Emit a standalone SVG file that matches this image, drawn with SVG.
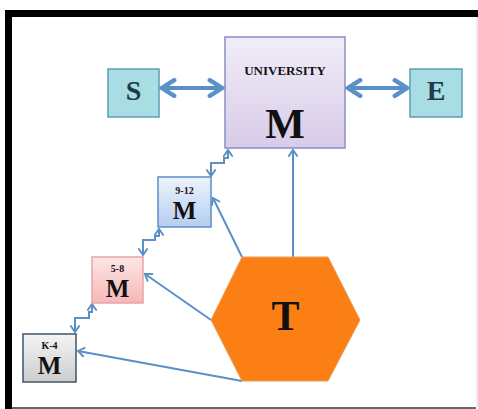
<svg xmlns="http://www.w3.org/2000/svg" width="478" height="409" viewBox="0 0 478 409">
<defs>
<linearGradient id="gU" x1="0" y1="0" x2="0" y2="1"><stop offset="0" stop-color="#f1edf8"/><stop offset="1" stop-color="#d8cbe8"/></linearGradient>
<linearGradient id="g912" x1="0" y1="0" x2="0" y2="1"><stop offset="0" stop-color="#eef4fc"/><stop offset="1" stop-color="#b5cdf0"/></linearGradient>
<linearGradient id="g58" x1="0" y1="0" x2="0" y2="1"><stop offset="0" stop-color="#fde6e6"/><stop offset="1" stop-color="#f6b7b7"/></linearGradient>
<linearGradient id="gK4" x1="0" y1="0" x2="0" y2="1"><stop offset="0" stop-color="#f4f4f4"/><stop offset="1" stop-color="#cdcdcd"/></linearGradient>
<marker id="big" markerUnits="userSpaceOnUse" markerWidth="20" markerHeight="20" viewBox="-14 -9 16 18" refX="0" refY="0" orient="auto-start-reverse">
<polyline points="-11,-7 0,0 -11,7" fill="none" stroke="#5b8fc7" stroke-width="4" stroke-linejoin="miter" stroke-linecap="round"/>
</marker>
<marker id="sm" markerUnits="userSpaceOnUse" markerWidth="12" markerHeight="12" viewBox="-7 -5 8 10" refX="0" refY="0" orient="auto-start-reverse">
<polyline points="-5,-3.5 0,0 -5,3.5" fill="none" stroke="#5b8fc7" stroke-width="1.6" stroke-linecap="round"/>
</marker>
<style>
.lbl{font-family:"Liberation Serif","Times New Roman",serif;font-weight:bold;text-anchor:middle;fill:#111}
.big{stroke:#5b8fc7;stroke-width:4;fill:none}
.thin{stroke:#5b8fc7;stroke-width:2;fill:none}
.step{stroke:#5b8fc7;stroke-width:2;fill:none;stroke-linejoin:miter}
</style>
</defs>
<rect width="478" height="409" fill="#fff"/>
<g id="frame">
<rect x="5" y="10" width="473" height="7" fill="#000"/>
<rect x="5" y="10" width="7" height="399" fill="#000"/>
<line x1="477" y1="17" x2="477" y2="407" stroke="#d8d8d8" stroke-width="1"/>
<line x1="12" y1="408" x2="476" y2="408" stroke="#333" stroke-width="1.5"/>
</g>
<g id="connectors">
<line class="big" x1="162" y1="88" x2="222" y2="88" marker-start="url(#big)" marker-end="url(#big)"/>
<line class="big" x1="348" y1="88" x2="407" y2="88" marker-start="url(#big)" marker-end="url(#big)"/>
<line class="thin" x1="293" y1="257" x2="293" y2="150" marker-end="url(#sm)"/>
<line class="thin" x1="242" y1="257" x2="213" y2="198" marker-end="url(#sm)"/>
<line class="thin" x1="211" y1="320" x2="145" y2="274" marker-end="url(#sm)"/>
<line class="thin" x1="242" y1="381" x2="78" y2="351" marker-end="url(#sm)"/>
<path class="step" d="M228,150 V158 H224 V163 H211 V176" marker-start="url(#sm)" marker-end="url(#sm)"/>
<path class="step" d="M159,229 V236 H155 V240 H143 V255" marker-start="url(#sm)" marker-end="url(#sm)"/>
<path class="step" d="M92,304 V312 H89 V318 H75 V332" marker-start="url(#sm)" marker-end="url(#sm)"/>
</g>
<g id="university">
<rect x="225" y="37" width="120" height="111" fill="url(#gU)" stroke="#8b8fc4" stroke-width="1.5"/>
<text class="lbl" x="285" y="75" font-size="13">UNIVERSITY</text>
<text class="lbl" x="285" y="138" font-size="42">M</text>
</g>
<g id="S">
<rect x="108" y="69" width="51" height="48" fill="#a8dde3" stroke="#5a9fb4" stroke-width="1.5"/>
<text class="lbl" x="133.5" y="100" font-size="28" fill="#1f3a48" style="fill:#1f3a48">S</text>
</g>
<g id="E">
<rect x="410" y="69" width="52" height="48" fill="#a8dde3" stroke="#5a9fb4" stroke-width="1.5"/>
<text class="lbl" x="436" y="100" font-size="28" style="fill:#1f3a48">E</text>
</g>
<g id="m912">
<rect x="158" y="177" width="53" height="50" fill="url(#g912)" stroke="#5b8fc7" stroke-width="1.5"/>
<text class="lbl" x="184.5" y="194" font-size="10">9-12</text>
<text class="lbl" x="184.5" y="219" font-size="25">M</text>
</g>
<g id="m58">
<rect x="92" y="257" width="51" height="46" fill="url(#g58)" stroke="#e6a5a5" stroke-width="1.5"/>
<text class="lbl" x="117.5" y="272" font-size="10">5-8</text>
<text class="lbl" x="117.5" y="297" font-size="25">M</text>
</g>
<g id="mK4">
<rect x="23" y="334" width="53" height="48" fill="url(#gK4)" stroke="#3f5468" stroke-width="1.5"/>
<text class="lbl" x="49.5" y="349" font-size="10">K-4</text>
<text class="lbl" x="49.5" y="374" font-size="25">M</text>
</g>
<g id="T">
<polygon points="242,257 328,257 360,320 328,381 242,381 211,320" fill="#fb7f14" stroke="#e8a060" stroke-width="1"/>
<text class="lbl" x="285.5" y="330" font-size="42">T</text>
</g>
</svg>
